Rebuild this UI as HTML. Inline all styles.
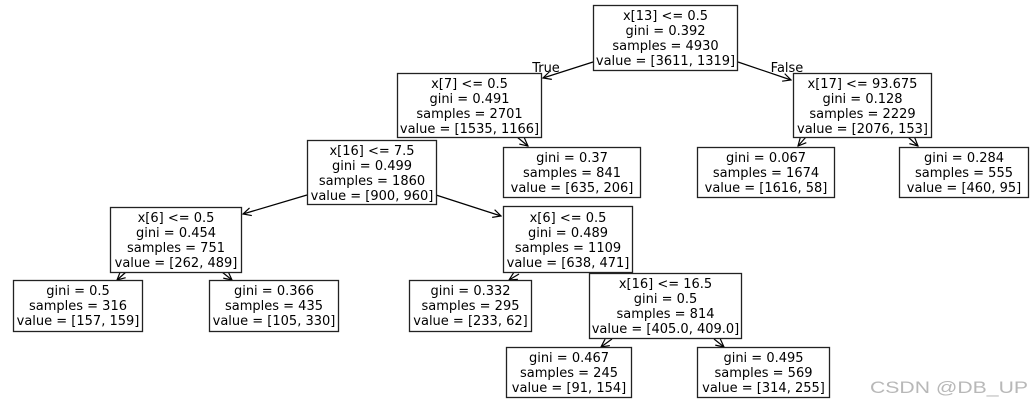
<!DOCTYPE html>
<html><head><meta charset="utf-8"><style>
html,body{margin:0;padding:0;background:#fff;width:1032px;height:405px;overflow:hidden}
svg text{font-family:"DejaVu Sans","Liberation Sans",sans-serif;font-size:13px;fill:#000}
</style></head><body>
<svg width="1032" height="405" viewBox="0 0 1032 405" xmlns="http://www.w3.org/2000/svg">
<defs><marker id="a" markerWidth="10" markerHeight="10" refX="9" refY="5" orient="auto" markerUnits="userSpaceOnUse"><path d="M1,1 L9,5 L1,9" fill="none" stroke="#000" stroke-width="1.2"/></marker></defs>
<g stroke="#000" stroke-width="1.2" fill="none" marker-end="url(#a)">
<line x1="593" y1="62" x2="543" y2="78"/>
<line x1="738" y1="62" x2="791" y2="80"/>
<line x1="517" y1="137" x2="528" y2="146"/>
<line x1="806" y1="137" x2="798" y2="146"/>
<line x1="908" y1="137" x2="918" y2="146"/>
<line x1="307" y1="195" x2="243" y2="214"/>
<line x1="436" y1="195" x2="501" y2="216"/>
<line x1="126" y1="272" x2="117" y2="280"/>
<line x1="222" y1="272" x2="232" y2="280"/>
<line x1="519" y1="274" x2="509" y2="280"/>
<line x1="612" y1="339" x2="601" y2="347"/>
<line x1="714" y1="339" x2="724" y2="347"/>
</g>
<g stroke="#222" stroke-width="1.3" fill="#fff">
<rect x="593.5" y="5.5" width="144" height="65"/>
<rect x="397.5" y="73.5" width="144" height="64"/>
<rect x="793.5" y="73.5" width="138" height="64"/>
<rect x="503.5" y="147.5" width="137" height="50"/>
<rect x="697.5" y="147.5" width="137" height="50"/>
<rect x="899.5" y="147.5" width="129" height="50"/>
<rect x="307.5" y="140.5" width="129" height="64"/>
<rect x="110.5" y="207.5" width="131" height="65"/>
<rect x="503.5" y="206.5" width="129" height="66"/>
<rect x="13.5" y="280.5" width="129" height="51"/>
<rect x="209.5" y="280.5" width="129" height="51"/>
<rect x="409.5" y="280.5" width="122" height="51"/>
<rect x="589.5" y="273.5" width="152" height="65"/>
<rect x="506.5" y="347.5" width="125" height="50"/>
<rect x="697.5" y="347.5" width="132" height="50"/>
</g>
<g text-anchor="middle">
<text x="665.5" y="20">x[13] &lt;= 0.5</text><text x="665.5" y="35">gini = 0.392</text><text x="665.5" y="50">samples = 4930</text><text x="665.5" y="65">value = [3611, 1319]</text>
<text x="469.5" y="88">x[7] &lt;= 0.5</text><text x="469.5" y="103">gini = 0.491</text><text x="469.5" y="118">samples = 2701</text><text x="469.5" y="133">value = [1535, 1166]</text>
<text x="862.5" y="88">x[17] &lt;= 93.675</text><text x="862.5" y="103">gini = 0.128</text><text x="862.5" y="118">samples = 2229</text><text x="862.5" y="133">value = [2076, 153]</text>
<text x="572" y="162">gini = 0.37</text><text x="572" y="177">samples = 841</text><text x="572" y="192">value = [635, 206]</text>
<text x="766" y="162">gini = 0.067</text><text x="766" y="177">samples = 1674</text><text x="766" y="192">value = [1616, 58]</text>
<text x="964" y="162">gini = 0.284</text><text x="964" y="177">samples = 555</text><text x="964" y="192">value = [460, 95]</text>
<text x="372" y="155">x[16] &lt;= 7.5</text><text x="372" y="170">gini = 0.499</text><text x="372" y="185">samples = 1860</text><text x="372" y="200">value = [900, 960]</text>
<text x="176" y="222">x[6] &lt;= 0.5</text><text x="176" y="237">gini = 0.454</text><text x="176" y="252">samples = 751</text><text x="176" y="267">value = [262, 489]</text>
<text x="568" y="222">x[6] &lt;= 0.5</text><text x="568" y="237">gini = 0.489</text><text x="568" y="252">samples = 1109</text><text x="568" y="267">value = [638, 471]</text>
<text x="78" y="295">gini = 0.5</text><text x="78" y="310">samples = 316</text><text x="78" y="325">value = [157, 159]</text>
<text x="274" y="295">gini = 0.366</text><text x="274" y="310">samples = 435</text><text x="274" y="325">value = [105, 330]</text>
<text x="470.5" y="295">gini = 0.332</text><text x="470.5" y="310">samples = 295</text><text x="470.5" y="325">value = [233, 62]</text>
<text x="665.5" y="288">x[16] &lt;= 16.5</text><text x="665.5" y="303">gini = 0.5</text><text x="665.5" y="318">samples = 814</text><text x="665.5" y="333">value = [405.0, 409.0]</text>
<text x="569" y="362">gini = 0.467</text><text x="569" y="377">samples = 245</text><text x="569" y="392">value = [91, 154]</text>
<text x="763.5" y="362">gini = 0.495</text><text x="763.5" y="377">samples = 569</text><text x="763.5" y="392">value = [314, 255]</text>
<text x="546" y="72">True</text>
<text x="787" y="72">False</text>
</g>
<text x="870" y="393" textLength="158" lengthAdjust="spacingAndGlyphs" style="font-family:'Liberation Sans',sans-serif;font-size:17px;fill:#b8b8b8">CSDN @DB_UP</text>
</svg>
</body></html>
